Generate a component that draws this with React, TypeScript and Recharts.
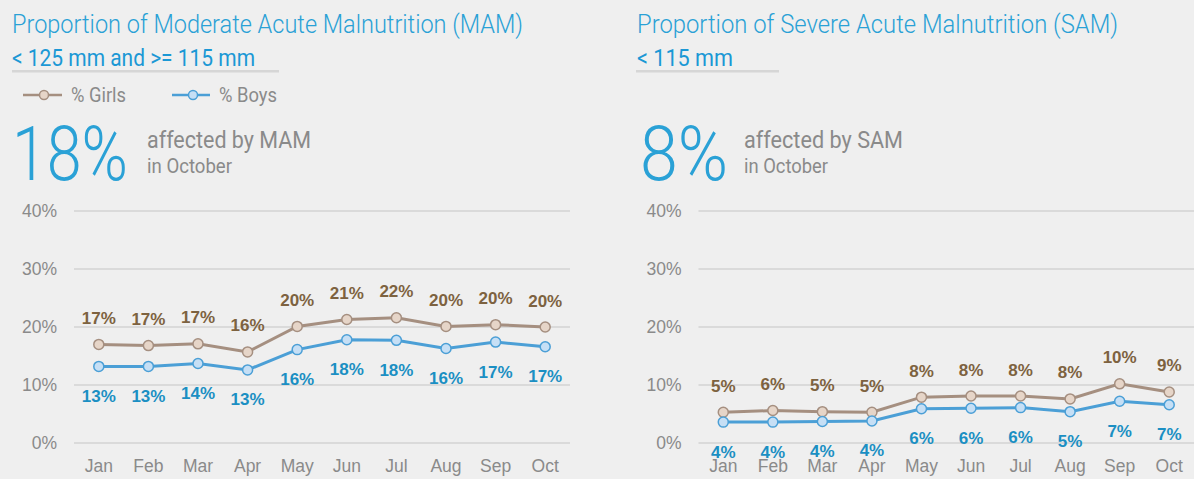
import { LineChart, Line, XAxis, YAxis, CartesianGrid, LabelList } from 'recharts';

// monthly values (percent)
const months = ['Jan', 'Feb', 'Mar', 'Apr', 'May', 'Jun', 'Jul', 'Aug', 'Sep', 'Oct'];
const mamGirls = [17.0, 16.8, 17.1, 15.7, 20.1, 21.3, 21.6, 20.1, 20.4, 20.0];
const mamBoys = [13.2, 13.2, 13.7, 12.6, 16.1, 17.8, 17.7, 16.3, 17.4, 16.6];
const samGirls = [5.3, 5.6, 5.4, 5.3, 7.9, 8.1, 8.1, 7.6, 10.2, 8.8];
const samBoys = [3.6, 3.6, 3.7, 3.8, 5.9, 6.0, 6.1, 5.4, 7.2, 6.6];
const yTicks = [0, 10, 20, 30, 40];

const GIRLS_LINE = '#a58f80';
const GIRLS_DOT = '#e6d5c8';
const GIRLS_TEXT = '#7d6240';
const BOYS_LINE = '#4b9fd6';
const BOYS_DOT = '#c6dff5';
const BOYS_TEXT = '#1b8fc3';
const BLUE = '#2aa1d6';
const GREY = '#8a8a8a';
const BG = '#efefef';
const SANS = '"Liberation Sans", Arial, sans-serif';
const HEAD = 'Roboto, "Liberation Sans", sans-serif';

const makeLabel = (dy: number, color: string) => (props: any) => {
  const x = props.viewBox?.x ?? props.x;
  const y = props.viewBox?.y ?? props.y;
  if (x == null || y == null) return null;
  return (
    <text x={x} y={y + dy} textAnchor="middle" dominantBaseline="central"
      fill={color} fontSize={17} fontWeight="bold" fontFamily={SANS}>
      {Math.round(Number(props.value))}%
    </text>
  );
};
const girlsLabel = makeLabel(-26, GIRLS_TEXT);
const boysLabel = makeLabel(30, BOYS_TEXT);

interface PanelProps {
  left: number;
  width: number;
  yAxisWidth: number;
  marginRight: number;
  girls: number[];
  boys: number[];
}

function Panel({ left, width, yAxisWidth, marginRight, girls, boys }: PanelProps) {
  const data = months.map((month, i) => ({ month, girls: girls[i], boys: boys[i] }));
  const pad = (width - yAxisWidth - marginRight) / (months.length * 2);
  const tick = { fill: GREY, fontSize: 17.5, fontFamily: SANS };
  return (
    <div style={{ position: 'absolute', left, top: 180 }}>
      <LineChart width={width} height={299} data={data} margin={{ top: 31, right: marginRight, bottom: 0, left: 0 }}>
        <CartesianGrid vertical={false} stroke="#dadada" strokeWidth={2} />
        <XAxis dataKey="month" axisLine={false} tickLine={false} tickSize={0} tickMargin={17}
          interval={0} height={36} padding={{ left: pad, right: pad }} tick={tick} />
        <YAxis domain={[0, 40]} ticks={yTicks} tickFormatter={(v) => `${v}%`} axisLine={false}
          tickLine={false} tickSize={0} tickMargin={17} width={yAxisWidth} tick={tick} />
        <Line dataKey="girls" stroke={GIRLS_LINE} strokeWidth={3} isAnimationActive={false}
          dot={{ r: 5, fill: GIRLS_DOT, stroke: GIRLS_LINE, strokeWidth: 1.5 }}>
          <LabelList dataKey="girls" content={girlsLabel} />
        </Line>
        <Line dataKey="boys" stroke={BOYS_LINE} strokeWidth={3} isAnimationActive={false}
          dot={{ r: 5, fill: BOYS_DOT, stroke: BOYS_LINE, strokeWidth: 1.5 }}>
          <LabelList dataKey="boys" content={boysLabel} />
        </Line>
      </LineChart>
    </div>
  );
}

function Header() {
  const fit = { lengthAdjust: 'spacingAndGlyphs' as const };
  return (
    <svg width={1194} height={190} style={{ position: 'absolute', left: 0, top: 0, overflow: 'visible' }}>
      {/* MAM */}
      <text x={12} y={33} fontSize={26} fontWeight={300} fill={BLUE} fontFamily={HEAD} textLength={511} {...fit}>
        Proportion of Moderate Acute Malnutrition (MAM)
      </text>
      <text x={12} y={65.5} fontSize={23} fill="#1b98d5" fontFamily={HEAD} textLength={243} {...fit}>
        {'< 125 mm and >= 115 mm'}
      </text>
      <rect x={12} y={70} width={267} height={2.5} fill="#d6d6d6" />
      <line x1={23} x2={62} y1={95} y2={95} stroke={GIRLS_LINE} strokeWidth={2.5} />
      <circle cx={44} cy={95} r={4.5} fill={GIRLS_DOT} stroke={GIRLS_LINE} strokeWidth={1.5} />
      <text x={71} y={101.5} fontSize={20} fill={GREY} fontFamily={HEAD} textLength={55} {...fit}>% Girls</text>
      <line x1={172} x2={210} y1={95} y2={95} stroke={BOYS_LINE} strokeWidth={2.5} />
      <circle cx={193} cy={95} r={4.5} fill={BOYS_DOT} stroke={BOYS_LINE} strokeWidth={1.5} />
      <text x={219} y={101.5} fontSize={20} fill={GREY} fontFamily={HEAD} textLength={58} {...fit}>% Boys</text>
      <text x={12} y={180} fontSize={76} fontWeight={300} fill={BLUE} fontFamily={HEAD} textLength={116} {...fit}>18%</text>
      <text x={147} y={148} fontSize={24} fill={GREY} fontFamily={HEAD} textLength={164} {...fit}>affected by MAM</text>
      <text x={147} y={173} fontSize={21} fill={GREY} fontFamily={HEAD} textLength={85} {...fit}>in October</text>

      {/* SAM */}
      <text x={637} y={33} fontSize={26} fontWeight={300} fill={BLUE} fontFamily={HEAD} textLength={481} {...fit}>
        Proportion of Severe Acute Malnutrition (SAM)
      </text>
      <text x={637} y={65.5} fontSize={23} fill="#1b98d5" fontFamily={HEAD} textLength={96} {...fit}>
        {'< 115 mm'}
      </text>
      <rect x={636} y={70} width={143} height={2.5} fill="#d6d6d6" />
      <text x={640} y={180} fontSize={76} fontWeight={300} fill={BLUE} fontFamily={HEAD} textLength={88} {...fit}>8%</text>
      <text x={744} y={148} fontSize={24} fill={GREY} fontFamily={HEAD} textLength={159} {...fit}>affected by SAM</text>
      <text x={744} y={173} fontSize={21} fill={GREY} fontFamily={HEAD} textLength={84} {...fit}>in October</text>
    </svg>
  );
}

export default function App() {
  return (
    <div style={{ position: 'absolute', left: 0, top: 0, width: 1194, height: 479, background: BG, overflow: 'hidden' }}>
      <Panel left={0} width={590} yAxisWidth={74} marginRight={20} girls={mamGirls} boys={mamBoys} />
      <Panel left={600} width={594} yAxisWidth={98.5} marginRight={0} girls={samGirls} boys={samBoys} />
      <Header />
    </div>
  );
}
